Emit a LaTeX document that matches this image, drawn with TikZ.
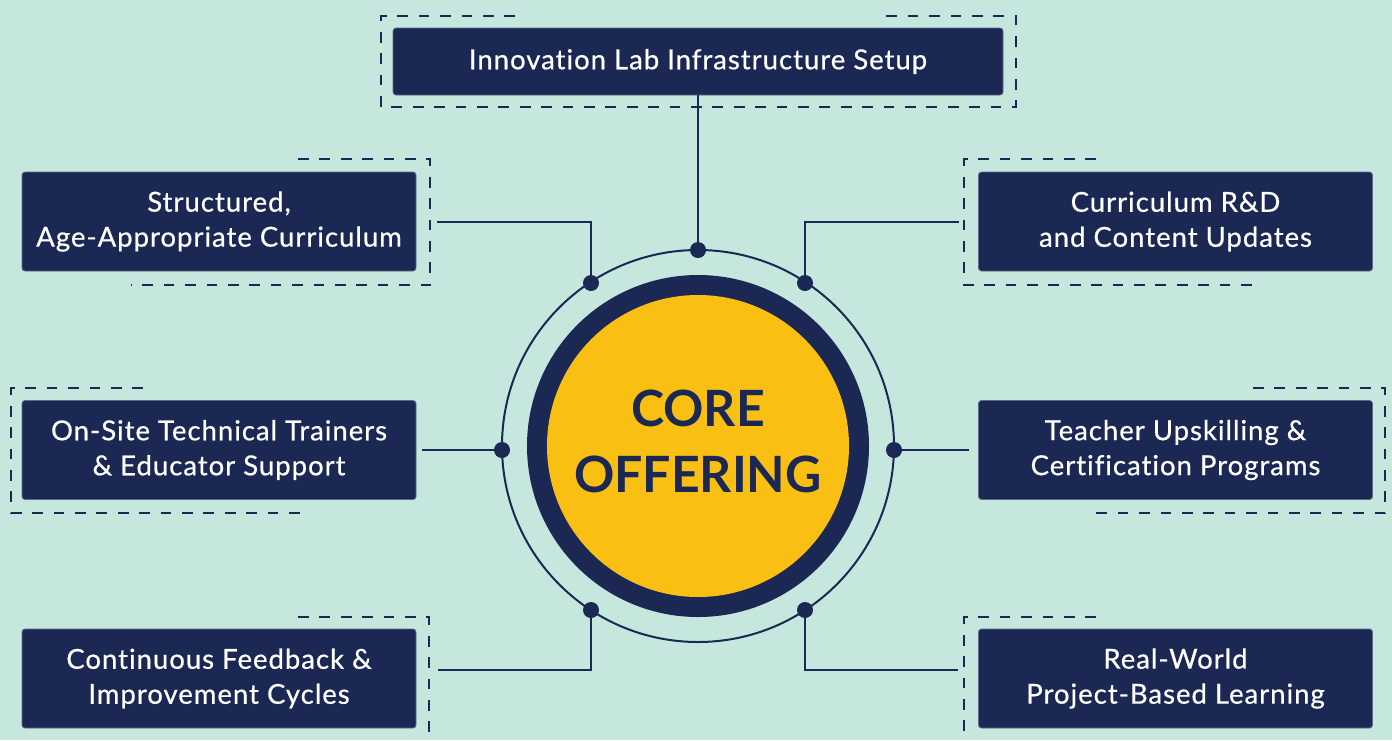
\documentclass[tikz,border=0pt]{standalone}
\usepackage{fontspec}
\setmainfont{Lato}[LetterSpace=3.6,FakeBold=0.6,Ligatures=NoCommon]
\newfontfamily\corefont{Lato}
\definecolor{bg}{HTML}{C6E7DD}
\definecolor{navy}{HTML}{1B2853}
\definecolor{gold}{HTML}{F9C013}
\begin{document}
\begin{tikzpicture}[x=1pt,y=-1pt,
  box/.style={fill=navy,draw=navy!70!white,line width=0.8pt,rounded corners=3pt,text=white,align=center,
    font=\fontsize{27.5}{35}\selectfont,inner sep=0pt},
  frame/.style={draw=navy,line width=2.8pt,dash pattern=on 10.7pt off 10.7pt},
  conn/.style={draw=navy,line width=2pt},
  dot/.style={circle,fill=navy,inner sep=0pt,minimum size=16pt}]
\fill[bg] (0,0) rectangle (1392,740);
\useasboundingbox (0,0) rectangle (1392,740);
% dashed frames
\draw[frame] (515,16) -- (381,16) -- (381,107) -- (1016,107) -- (1016,16) -- (883,16);
\draw[frame] (298,159) -- (430,159) -- (430,285) -- (131,285);
\draw[frame] (1096,159) -- (964,159) -- (964,285) -- (1262,285);
\draw[frame] (143,388) -- (11,388) -- (11,513) -- (309,513);
\draw[frame] (1253,388) -- (1385,388) -- (1385,513) -- (1087,513);
\draw[frame] (298,617) -- (429,617) -- (429,745);
\draw[frame] (1096,617) -- (964,617) -- (964,745);
% boxes
\node[box,minimum width=610pt,minimum height=67pt] (top) at (698,61.5) {Innovation Lab Infrastructure Setup};
\node[box,minimum width=394pt,minimum height=99pt] (l1) at (219,221.5) {Structured,\\Age-Appropriate Curriculum};
\node[box,minimum width=394pt,minimum height=99pt] (r1) at (1175.5,221.5) {Curriculum R\&D\\and Content Updates};
\node[box,minimum width=394pt,minimum height=99pt] (l2) at (219,450) {On-Site Technical Trainers\\\& Educator Support};
\node[box,minimum width=394pt,minimum height=99pt] (r2) at (1175.5,450) {Teacher Upskilling \&\\Certification Programs};
\node[box,minimum width=394pt,minimum height=99pt] (l3) at (219,678.5) {Continuous Feedback \&\\Improvement Cycles};
\node[box,minimum width=394pt,minimum height=99pt] (r3) at (1175.5,678.5) {Real-World\\Project-Based Learning};
% circles
\node[circle,draw=navy,line width=2pt,minimum size=392pt,inner sep=0pt] (ring) at (698,446) {};
\node[circle,fill=navy,minimum size=342pt,inner sep=0pt] (navyc) at (698,446) {};
\node[circle,fill=gold,minimum size=302pt,inner sep=0pt] (core) at (698,446) {};
\node[text=navy,align=center,inner sep=0pt,
  font=\corefont\bfseries\fontsize{50}{66}\selectfont] (coretext) at (698,441) {CORE\\OFFERING};
% dots
\node[dot] (dT) at (698,250) {};
\node[dot] (dL1) at (591,283) {};
\node[dot] (dR1) at (805,283) {};
\node[dot] (dL2) at (502,450) {};
\node[dot] (dR2) at (894,450) {};
\node[dot] (dL3) at (591,610) {};
\node[dot] (dR3) at (805,610) {};
\coordinate (eL1) at (437,222);
\coordinate (eR1) at (959,222);
\coordinate (eL2) at (422,450);
\coordinate (eR2) at (969,450);
\coordinate (eL3) at (438,670);
\coordinate (eR3) at (958,670);
% connectors
\draw[conn] (top.south) -- (dT);
\draw[conn] (dL1) |- (eL1);
\draw[conn] (dR1) |- (eR1);
\draw[conn] (eL2) -- (dL2);
\draw[conn] (dR2) -- (eR2);
\draw[conn] (dL3) |- (eL3);
\draw[conn] (dR3) |- (eR3);
\end{tikzpicture}
\end{document}
